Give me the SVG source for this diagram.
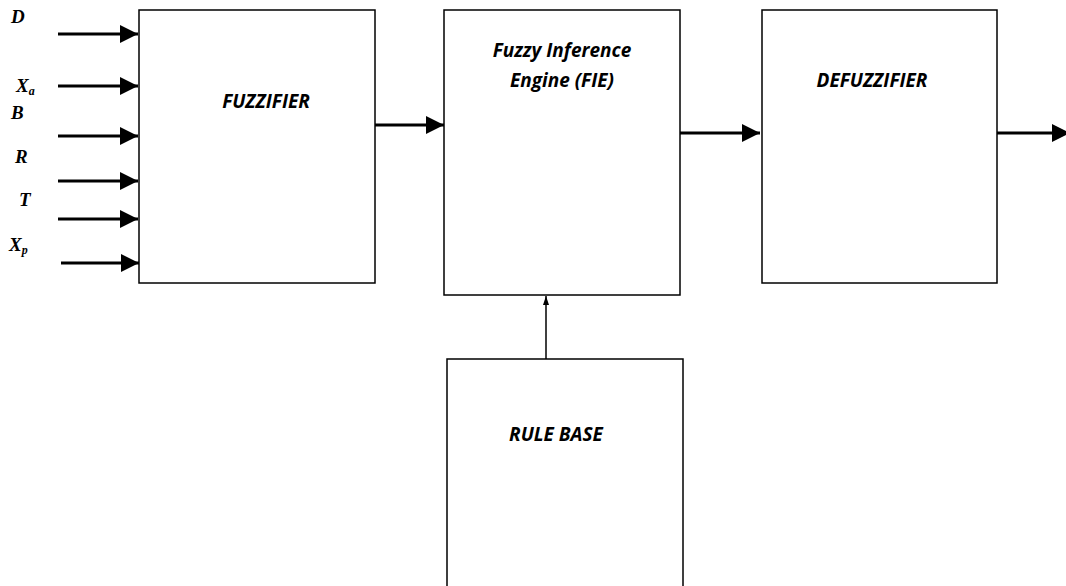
<svg xmlns="http://www.w3.org/2000/svg" width="1066" height="586" viewBox="0 0 1066 586">
<defs>
<style>
.box{fill:#fff;stroke:#000;stroke-width:1.5}
.lbl{font-family:"Open Sans","Liberation Sans",sans-serif;font-weight:bold;font-style:italic;font-size:19px;fill:#000}
.var{font-family:"Liberation Serif",serif;font-weight:bold;font-style:italic;font-size:19px;fill:#000}
.sub{font-size:12px}
.arr{stroke:#000;stroke-width:3;fill:none}
.thin{stroke:#000;stroke-width:1.5;fill:none}
</style>
<marker id="ah" markerWidth="6" markerHeight="6" refX="6" refY="3" orient="auto" markerUnits="strokeWidth"><path d="M0,0 L6,3 L0,6 Z" fill="#000"/></marker>
<marker id="ah2" markerWidth="6" markerHeight="4" refX="6" refY="2" orient="auto" markerUnits="strokeWidth"><path d="M0,0 L6,2 L0,4 Z" fill="#000"/></marker>
</defs>
<rect width="1066" height="586" fill="#fff"/>
<g id="inputs-labels">
<text class="var" x="11" y="23">D</text>
<text class="var" x="16" y="92">X<tspan class="sub" dy="3">a</tspan></text>
<text class="var" x="11" y="119">B</text>
<text class="var" x="15" y="163">R</text>
<text class="var" x="19" y="206">T</text>
<text class="var" x="9" y="251">X<tspan class="sub" dy="3">p</tspan></text>
</g>
<g id="fuzzifier"><rect class="box" x="139" y="10" width="236" height="273"/><text class="lbl" x="266" y="108" text-anchor="middle">FUZZIFIER</text></g>
<g id="fie"><rect class="box" x="444" y="10" width="236" height="285"/><text class="lbl" x="562" y="57" text-anchor="middle">Fuzzy Inference</text><text class="lbl" x="562" y="87" text-anchor="middle">Engine (FIE)</text></g>
<g id="defuzzifier"><rect class="box" x="762" y="10" width="235" height="273"/><text class="lbl" x="872" y="87" text-anchor="middle">DEFUZZIFIER</text></g>
<g id="rulebase"><rect class="box" x="447" y="359" width="236" height="240"/><text class="lbl" x="556" y="441" text-anchor="middle">RULE BASE</text></g>
<g id="connectors">
<line class="arr" x1="58" y1="34" x2="138" y2="34" marker-end="url(#ah)"/>
<line class="arr" x1="58" y1="86" x2="138" y2="86" marker-end="url(#ah)"/>
<line class="arr" x1="58" y1="136" x2="138" y2="136" marker-end="url(#ah)"/>
<line class="arr" x1="58" y1="181" x2="138" y2="181" marker-end="url(#ah)"/>
<line class="arr" x1="58" y1="219" x2="138" y2="219" marker-end="url(#ah)"/>
<line class="arr" x1="61" y1="263" x2="139" y2="263" marker-end="url(#ah)"/>
<line class="arr" x1="375" y1="125" x2="444" y2="125" marker-end="url(#ah)"/>
<line class="arr" x1="680" y1="133" x2="760" y2="133" marker-end="url(#ah)"/>
<line class="arr" x1="997" y1="133" x2="1070" y2="133" marker-end="url(#ah)"/>
<line class="thin" x1="546" y1="359" x2="546" y2="296" marker-end="url(#ah2)"/>
</g>
</svg>
